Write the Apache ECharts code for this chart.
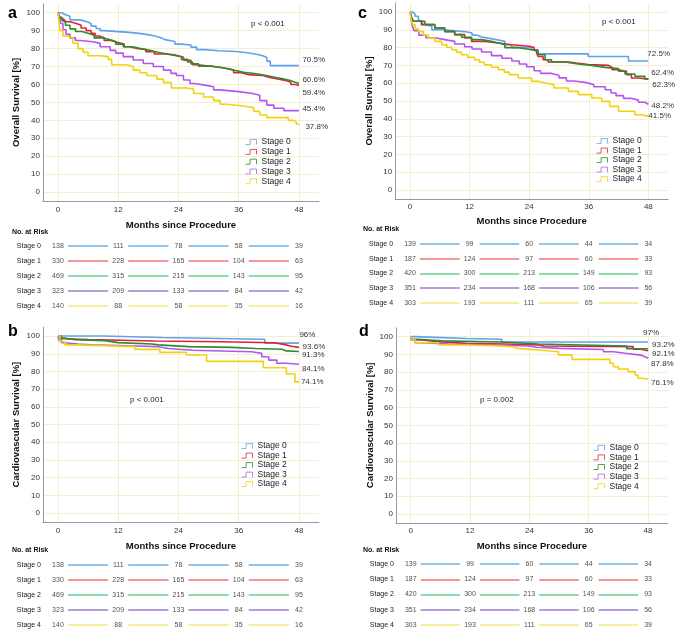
<!DOCTYPE html>
<html><head><meta charset="utf-8">
<script src="https://cdn.jsdelivr.net/npm/echarts@6/dist/echarts.min.js"></script>
<style>html,body{margin:0;padding:0;background:#fff}#c{width:685px;height:631px}</style>
</head><body><div id="c"></div>
<script>
// ---------- data ----------
const months = [0, 12, 24, 36, 48];
const yTicks = [0, 10, 20, 30, 40, 50, 60, 70, 80, 90, 100];
const stages = ['Stage 0', 'Stage 1', 'Stage 2', 'Stage 3', 'Stage 4'];

// Panel a: overall survival (cohort 1)
const osA0 = [[0,100],[0.8,99],[1.4,98],[2.4,96],[4.4,95],[5.8,94],[6.6,92.5],[7.6,91.2],[8.4,90],[9.1,89.2],[13.6,88.5],[16.2,87.8],[17.8,87],[19.3,86],[20.5,85],[21.3,84],[23.3,82.5],[24.5,82],[26.5,80.8],[27.6,79.4],[29.3,78.8],[32,78.4],[35.5,78],[37,77],[39.3,76],[40.8,75],[41.6,73],[42.3,70.5],[48,70.5]];
const osA1 = [[0,100],[0.3,98],[0.6,96.5],[1.2,95],[2.4,94],[3.7,93],[4.6,91.5],[5.6,90],[6.6,88.5],[7.4,87],[8.2,86],[9.2,84.5],[10.5,83.5],[11.8,82.5],[13.2,81],[14.2,80],[16,79.5],[17.5,78.3],[19.2,77],[21.5,76.5],[23.2,75.5],[24.6,74],[25.8,72.5],[26.8,71],[27.8,70],[31,69.5],[32.5,68.8],[33.8,68],[35,66.5],[36.5,65.5],[38,65],[40.8,64],[42,63.2],[43.5,62.3],[45.3,61.2],[46.4,60],[47.4,59.4],[48,59.4]];
const osA2 = [[0,100],[0.3,97.5],[0.8,95.5],[1.5,93],[2.4,91],[3.5,89.5],[4.8,88.5],[6,87.5],[7.2,86],[8.8,85],[10.3,84],[11.5,82.5],[13,81],[14.8,80],[16.5,79],[18.3,78],[19.8,77],[21.8,76],[23.6,75.3],[25,73.5],[26.5,71.5],[28,70.2],[30.5,69.5],[32.5,68.8],[34,67.7],[35.5,66.8],[37,66],[39.5,65],[41.5,64],[43.2,63.2],[44.8,62.2],[46.3,61.2],[47.2,60.6],[48,60.6]];
const osA3 = [[0,100],[0.3,97],[0.6,94],[1,90.5],[1.6,88],[2.4,86],[3.5,84.5],[4.4,83.8],[7,82.9],[8.4,81],[10.4,79],[11.5,77.5],[13,75.5],[15,73.6],[17,71.7],[19,70],[21,68],[22.5,66.2],[23.6,65],[25,62.5],[26.3,60.5],[27.2,59.5],[29.6,58.7],[31,57],[32.3,56],[36,55],[38.8,54],[40.2,51],[41.6,48.5],[43,46.7],[45,45.4],[48,45.4]];
const osA4 = [[0,100],[0.2,95],[0.4,90],[1,87],[2,86],[3,83],[4,80],[5,78],[6,76],[8.4,75.5],[10,74],[10.7,71],[13.7,70],[15,68],[16.3,66.5],[17.7,65],[19.7,63],[21,61],[22.6,58],[25.6,57.5],[27,55],[29,53],[31,51],[32.3,49],[33.6,48],[37,47],[39,45],[40.2,43],[41.6,41.5],[45.9,40],[47,39],[47.5,37.8],[48,37.8]];
const endA = ['70.5%', '59.4%', '60.6%', '45.4%', '37.8%'];

// Panel b: cardiovascular survival (cohort 1)
const cvB0 = [[0,100],[9,99.2],[20.7,98.2],[41.2,96],[48,96]];
const cvB1 = [[0,100],[0.4,98.5],[1.4,98],[6,97.6],[12.7,97.2],[19.3,96.8],[32.6,96.2],[43,95.3],[45,94.2],[46.5,93.6],[48,93.6]];
const cvB2 = [[0,100],[0.6,98.8],[1.5,98],[3.4,97.4],[9.4,96.3],[12,95.5],[18.7,95],[20,94],[26,93.6],[34.6,93],[39.3,92.5],[44.6,91.6],[45.5,91.3],[48,91.3]];
const cvB3 = [[0,100],[0.2,97.7],[0.7,96.2],[1.4,95.5],[4,95],[6.7,94.4],[15.4,94],[20,93],[22,92],[26.7,91.1],[38.6,90.2],[40.6,88.3],[42,86.4],[43.6,84.6],[45.5,84.1],[48,84.1]];
const cvB4 = [[0,100],[0.4,96.8],[1.4,95],[3.7,94],[15.3,92.5],[20.3,90.8],[25.6,89.3],[29.6,85.7],[40.9,82.1],[45.5,78.6],[47.2,74.1],[48,74.1]];
const endB = ['96%', '93.6%', '91.3%', '84.1%', '74.1%'];

// Panel c: overall survival (cohort 2)
const osC0 = [[0,100],[0.5,99],[1,97.6],[1.7,95],[2.5,93],[3,92],[4.4,90],[6.4,89],[11,88.2],[12.5,87],[13.5,86],[14.4,85.2],[16,84.3],[17.8,83.5],[19.1,81.6],[20.5,80],[24.5,78.8],[25.8,76.5],[35.9,75],[44,72.5],[48,72.5]];
const osC1 = [[0,100],[0.3,97],[0.6,94.8],[2.3,92.9],[5,91],[7,89.1],[9,87.3],[11,85.4],[12.4,83.5],[15,82.6],[17.8,81.6],[20.5,80.8],[24,80],[25,78.8],[25.5,77],[25.8,75],[26.8,73.2],[27.8,71.9],[31.9,71.3],[33.5,70.5],[35.9,70],[40,68.9],[40.7,67.6],[42,66.7],[43.6,64.8],[44.6,62.9],[46,62.3],[48,62.3]];
const osC2 = [[0,100],[0.3,97],[0.7,94.8],[3,92.9],[5,91],[7,89],[9,87.3],[10.4,85.8],[12.4,84.5],[14.4,83.5],[16.4,82.6],[17.8,81.6],[19.1,80],[21.8,79.4],[23.2,78.8],[24.5,77.9],[25.8,76],[27.2,73.2],[28.5,71.9],[31.2,70.8],[33.9,70],[36.6,68.9],[39.3,68.2],[42,66.7],[43.3,65.2],[45.3,63.9],[47.3,62.4],[48,62.4]];
const osC3 = [[0,100],[0.2,97],[0.4,93],[0.8,89.5],[1.8,87],[3.2,85.5],[5,84.5],[7,83.5],[9,82],[11,80.5],[12.5,79.2],[14.4,77.5],[16.4,75.5],[18.5,74],[20.5,72.5],[22,70.8],[23.5,69.2],[25,67],[26.3,65.5],[28.5,64.5],[30,63],[31.5,61.2],[33,60.3],[35.6,59.2],[37,58],[39.3,56.3],[40.5,54.5],[41.5,53],[43,51.5],[44.5,50.5],[46,49.3],[47.3,48.2],[48,48.2]];
const osC4 = [[0,100],[0.2,96],[0.5,93],[1,90.5],[1.7,89],[2.7,87],[3.7,85.4],[5,83.5],[6.4,81.6],[7.4,80.2],[8.4,78.8],[9.4,77.3],[10.4,76],[11.6,74.6],[13,73.2],[14,71.8],[15,70.4],[16.4,69],[17.8,67.6],[19,66.2],[20,64.8],[21.8,62.9],[24.5,61],[26,60.1],[27.2,59.2],[29,57.3],[31.9,55.4],[33.9,53.6],[36.6,51.7],[38.6,49.8],[40.2,47],[42,44.2],[45.3,42.3],[46.5,41.5],[48,41.5]];
const endC = ['72.5%', '62.3%', '62.4%', '48.2%', '41.5%'];

// Panel d: cardiovascular survival (cohort 2)
const cvD0 = [[0,100],[0.9,99],[11.3,98.5],[18.4,97],[48,97]];
const cvD1 = [[0,100],[0.2,98.1],[2.2,97.2],[5.6,96.2],[11.3,95.9],[19,95.3],[25.8,94.7],[27,94.4],[45,92.9],[46.5,92.1],[48,92.1]];
const cvD2 = [[0,100],[0.3,98.5],[1.5,97.6],[6.3,97],[18.4,95.9],[25.8,95.3],[34.6,94.7],[43.7,93.2],[48,93.2]];
const cvD3 = [[0,100],[0.2,98.1],[0.9,96.6],[2.2,95.9],[7.6,95.3],[16.4,94.7],[23.8,94],[25.5,93.4],[30,92.8],[39,91.5],[41,90.6],[43.4,89.6],[46.5,88.5],[47.5,87.8],[48,87.8]];
const cvD4 = [[0,100],[0.3,98.1],[1,96.6],[5.6,95.3],[11.7,94.7],[18.4,94.4],[20.4,93.4],[21.4,92.5],[25.8,91.5],[29.9,89.7],[32.6,87.2],[40.3,85],[41,83],[42,81.8],[44,80.3],[45.4,78.4],[46,76.5],[46.8,76.1],[48,76.1]];
const endD = ['97%', '92.1%', '93.2%', '87.8%', '76.1%'];

// Numbers at risk (rows: Stage 0..4, columns: months 0,12,24,36,48)
const riskCohort1 = [[138,111,78,58,39],[330,228,165,104,63],[469,315,215,143,95],[323,209,133,84,42],[140,88,58,35,16]];
const riskCohort2 = [[139,99,60,44,34],[187,124,97,60,33],[420,300,213,149,93],[351,234,168,106,56],[303,193,111,65,39]];

const pValues = ['p < 0.001', 'p < 0.001', 'p < 0.001', 'p = 0.002'];

// ---------- styling / layout ----------
const FONT = 'Liberation Sans, Arial, Helvetica, sans-serif';
const lineColors = ['#5fa2f0', '#e3203a', '#2d8c2d', '#b455f2', '#f0d30c'];
const legendColors = ['#7fb4f2', '#e8505f', '#55a055', '#c27cf4', '#f2dc40'];
const riskColors = ['#6cb2e4', '#f07474', '#66d092', '#a07cd0', '#f4ea7a'];
const gridColor = '#f4efcf';

const panels = [
  { letter: 'a', curves: [osA0, osA1, osA2, osA3, osA4], ends: endA, risk: riskCohort1,
    ytitle: 'Overall Survival [%]',
    grid: { left: 42.9, top: 3.75, width: 276.1, height: 197.3 },
    rgrid: { left: 42.9, top: 238.5, width: 276.1, height: 75 },
    endOff: [[3.5,-6],[3.5,7.5],[3.5,-4],[3.5,-1.5],[6.5,3]],
    legend: { left: 245, top: 137.6, w: 11, gap: 0.8 },
    xMargin: 5, xNameGap: 19, yNameGap: 21.5,
    letterPos: [8, 13.5], riskTitle: [12, 231.7], pPos: [251, 24] },
  { letter: 'b', curves: [cvB0, cvB1, cvB2, cvB3, cvB4], ends: endB, risk: riskCohort1,
    ytitle: 'Cardiovascular Survival [%]',
    grid: { left: 42.9, top: 327.2, width: 276.1, height: 194.7 },
    rgrid: { left: 42.9, top: 557.2, width: 276.1, height: 75 },
    endOff: [[0.5,-8],[3.7,-1],[3,3.6],[3,5],[2,0]],
    legend: { left: 241, top: 441.6, w: 11, gap: 0.5 },
    xMargin: 5, xNameGap: 19, yNameGap: 21.5,
    letterPos: [8, 332], riskTitle: [12, 550], pPos: [130, 400] },
  { letter: 'c', curves: [osC0, osC1, osC2, osC3, osC4], ends: endC, risk: riskCohort2,
    ytitle: 'Overall Survival [%]',
    grid: { left: 395.1, top: 3.1, width: 273.1, height: 195.8 },
    rgrid: { left: 395.1, top: 236.6, width: 273.1, height: 73.75 },
    endOff: [[-1,-7],[4,6],[3,-6],[3,2],[0,0]],
    legend: { left: 596, top: 136.6, w: 11, gap: 0.5 },
    xMargin: 4, xNameGap: 17.5, yNameGap: 20.5,
    letterPos: [358, 14], riskTitle: [363, 229], pPos: [602, 22] },
  { letter: 'd', curves: [cvD0, cvD1, cvD2, cvD3, cvD4], ends: endD, risk: riskCohort2,
    ytitle: 'Cardiovascular Survival [%]',
    grid: { left: 395.9, top: 327.8, width: 271.9, height: 195 },
    rgrid: { left: 395.9, top: 556.5, width: 271.9, height: 76 },
    endOff: [[-5,-9],[4,3],[4,-4],[3,5.5],[3,4]],
    legend: { left: 593, top: 443.3, w: 11, gap: 0.6 },
    xMargin: 4, xNameGap: 18.5, yNameGap: 20.5,
    letterPos: [359, 332], riskTitle: [363, 550], pPos: [480, 400] }
];

const grids = [], xAxes = [], yAxes = [], series = [], legends = [], graphics = [];
const iconPath = 'path://M0,8L5,8L5,0L12,0L12,8';

panels.forEach((p, pi) => {
  grids.push(Object.assign({ containLabel: false, outerBoundsMode: 'none' }, p.grid));
  xAxes.push({
    type: 'value', gridIndex: pi, min: -3, max: 52,
    name: 'Months since Procedure', nameLocation: 'middle', nameGap: p.xNameGap,
    nameTextStyle: { fontFamily: FONT, fontSize: 9.5, fontWeight: 'bold', color: '#111' },
    axisLine: { show: true, onZero: false, lineStyle: { color: '#9a9a9a', width: 1 } },
    axisTick: { show: false, customValues: months },
    axisLabel: { customValues: months, fontFamily: FONT, fontSize: 8, color: '#333', margin: p.xMargin },
    splitLine: { show: true, lineStyle: { color: gridColor, width: 1 } }
  });
  yAxes.push({
    type: 'value', gridIndex: pi, min: -5, max: 105,
    name: p.ytitle, nameLocation: 'middle', nameRotate: 90, nameGap: p.yNameGap,
    nameTextStyle: { fontFamily: FONT, fontSize: 9.5, fontWeight: 'bold', color: '#111' },
    axisLine: { show: true, onZero: false, lineStyle: { color: '#9a9a9a', width: 1 } },
    axisTick: { show: false, customValues: yTicks },
    axisLabel: { customValues: yTicks, fontFamily: FONT, fontSize: 8, color: '#333', margin: 3 },
    splitLine: { show: true, lineStyle: { color: gridColor, width: 1 } }
  });
  p.curves.forEach((data, si) => {
    series.push({
      type: 'line', name: stages[si], xAxisIndex: pi, yAxisIndex: pi,
      data: data, step: 'end', symbol: 'none', showSymbol: false,
      lineStyle: { color: lineColors[si], width: 1.6 },
      itemStyle: { color: lineColors[si] },
      endLabel: { show: true, formatter: p.ends[si], distance: 0, offset: p.endOff[si],
        fontFamily: FONT, fontSize: 8, color: '#333' },
      emphasis: { disabled: true }, silent: true, z: 3 + si
    });
  });
  legends.push({
    orient: 'vertical', left: p.legend.left, top: p.legend.top, padding: 0,
    itemWidth: p.legend.w, itemHeight: 5, itemGap: p.legend.gap, selectedMode: false,
    symbolKeepAspect: false,
    data: stages.map((s, si) => ({
      name: s, icon: iconPath,
      itemStyle: { color: 'rgba(255,255,255,0)', borderColor: legendColors[si], borderWidth: 1 }
    })),
    textStyle: { fontFamily: FONT, fontSize: 8.5, color: '#222' }
  });
  graphics.push({ type: 'text', x: p.letterPos[0], y: p.letterPos[1],
    style: { text: p.letter, fontFamily: FONT, fontSize: 16, fontWeight: 'bold', fill: '#000', verticalAlign: 'middle', align: 'left' } });
  graphics.push({ type: 'text', x: p.riskTitle[0], y: p.riskTitle[1],
    style: { text: 'No. at Risk', fontFamily: FONT, fontSize: 7, fontWeight: 'bold', fill: '#111', verticalAlign: 'middle', align: 'left' } });
  graphics.push({ type: 'text', x: p.pPos[0], y: p.pPos[1],
    style: { text: pValues[pi], fontFamily: FONT, fontSize: 8, fill: '#222', verticalAlign: 'middle', align: 'left' } });
});

panels.forEach((p, pi) => {
  const gi = 4 + pi;
  grids.push(Object.assign({ containLabel: false, outerBoundsMode: 'none' }, p.rgrid));
  xAxes.push({ type: 'value', gridIndex: gi, min: -3, max: 52, show: false });
  yAxes.push({ type: 'category', gridIndex: gi, data: stages, inverse: true,
    axisLine: { show: false }, axisTick: { show: false }, splitLine: { show: false },
    axisLabel: { fontFamily: FONT, fontSize: 7, color: '#222', margin: 2 } });
  const nums = [], segs = [];
  p.risk.forEach((row, ri) => {
    row.forEach((n, ci) => {
      nums.push([months[ci], ri, n]);
      if (ci < row.length - 1) {
        segs.push({ coords: [[months[ci] + 2, ri], [months[ci] + 10, ri]],
          lineStyle: { color: riskColors[ri], width: 1.5, opacity: 1 } });
      }
    });
  });
  series.push({ type: 'lines', coordinateSystem: 'cartesian2d', xAxisIndex: gi, yAxisIndex: gi,
    data: segs, silent: true, lineStyle: { width: 1.5, opacity: 1 } });
  series.push({ type: 'scatter', xAxisIndex: gi, yAxisIndex: gi, data: nums, symbolSize: 0, silent: true,
    itemStyle: { color: 'rgba(0,0,0,0)' },
    label: { show: true, position: 'inside', formatter: (q) => String(q.value[2]),
      fontFamily: FONT, fontSize: 7, color: '#222' } });
});

const chart = echarts.init(document.getElementById('c'), null, { renderer: 'canvas' });
chart.setOption({
  animation: false,
  backgroundColor: '#fff',
  textStyle: { fontFamily: FONT },
  grid: grids, xAxis: xAxes, yAxis: yAxes, legend: legends,
  series: series, graphic: graphics
});
</script></body></html>
